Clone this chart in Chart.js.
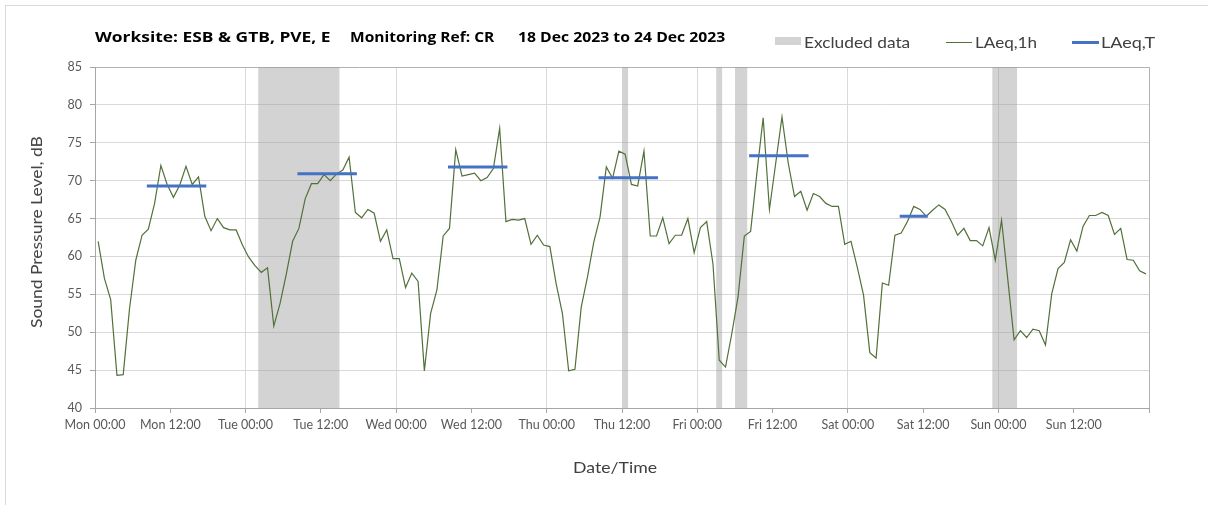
<!DOCTYPE html>
<html>
<head>
<meta charset="utf-8">
<script src="https://cdn.jsdelivr.net/npm/chart.js@4.4.1/dist/chart.umd.min.js"></script>
<style>
  html, body { margin: 0; padding: 0; background: #fff; overflow: hidden; }
  #wrap { position: relative; width: 1208px; height: 505px; overflow: hidden; font-family: Lato, "Open Sans", sans-serif; }
  #frame { position: absolute; left: 5px; top: 5px; width: 1400px; height: 700px; border: 1px solid #d9d9d9; box-sizing: border-box; }
  canvas { position: absolute; left: 0; top: 0; }
  .t { position: absolute; white-space: nowrap; line-height: 1; transform-origin: 0 50%; }
  .title { font-family: "Open Sans", sans-serif; font-weight: bold; font-size: 14px; color: #000; top: 30px; }
  .leg { font-size: 16px; color: #404040; top: 34px; }
  .sw { position: absolute; }
  .axt { font-size: 16px; color: #404040; }
</style>
</head>
<body>
<div id="wrap">
  <div id="frame"></div>
  <canvas id="c" width="1208" height="505"></canvas>
  <div class="t title fit" data-w="236" style="left:95px">Worksite: ESB &amp; GTB, PVE, E</div>
  <div class="t title fit" data-w="144" style="left:350px">Monitoring Ref: CR</div>
  <div class="t title fit" data-w="207" style="left:518px">18 Dec 2023 to 24 Dec 2023</div>

  <div class="sw" style="left:775px;top:37px;width:26px;height:8px;background:#d3d3d3"></div>
  <div class="t leg fit" data-w="106" style="left:804px">Excluded data</div>
  <div class="sw" style="left:946px;top:42px;width:26px;height:1px;background:#52703a"></div>
  <div class="t leg fit" data-w="62" style="left:975px">LAeq,1h</div>
  <div class="sw" style="left:1072px;top:41px;width:27px;height:3px;background:#4472c4"></div>
  <div class="t leg fit" data-w="54" style="left:1101px">LAeq,T</div>

  <div class="t axt fit" data-w="84" style="left:573px;top:459px">Date/Time</div>
  <div class="t axt" id="ytitle" style="left:36px;top:232px;transform-origin:50% 50%">Sound Pressure Level, dB</div>
</div>
<script>
// Hourly LAeq,1h values (dB), Mon 00:00 through Sun 23:00
const laeq1h = [
  62.0, 57.1, 54.3, 44.3, 44.4, 53.1, 59.5, 62.8, 63.6, 67.0, 72.0, 69.5,
  67.8, 69.4, 71.9, 69.5, 70.5, 65.3, 63.4, 65.0, 63.8, 63.5, 63.5, 61.5,
  59.9, 58.8, 57.9, 58.5, 50.8, 53.8, 57.7, 62.0, 63.7, 67.6, 69.6, 69.6,
  70.8, 70.0, 70.9, 71.4, 73.1, 65.8, 65.1, 66.2, 65.7, 62.0, 63.5, 59.7,
  59.7, 55.9, 57.8, 56.7, 44.9, 52.5, 55.6, 62.7, 63.7, 74.1, 70.6, 70.8,
  71.0, 70.0, 70.4, 71.6, 76.9, 64.6, 64.9, 64.8, 65.0, 61.6, 62.8, 61.5,
  61.3, 56.4, 52.5, 44.9, 45.1, 53.3, 57.3, 61.9, 65.2, 71.8, 70.3, 73.9,
  73.5, 69.5, 69.3, 73.9, 62.7, 62.7, 65.1, 61.7, 62.8, 62.8, 65.0, 60.5,
  63.8, 64.6, 59.0, 46.3, 45.4, 49.8, 54.7, 62.7, 63.3, 71.0, 78.3, 66.2,
  72.3, 78.4, 72.3, 67.9, 68.6, 66.1, 68.3, 67.9, 67.0, 66.6, 66.6, 61.6,
  62.0, 58.6, 54.9, 47.3, 46.6, 56.5, 56.2, 62.8, 63.1, 64.6, 66.6, 66.2,
  65.3, 66.1, 66.8, 66.2, 64.6, 62.8, 63.7, 62.1, 62.1, 61.4, 63.8, 59.5,
  64.8, 56.9, 49.0, 50.2, 49.3, 50.4, 50.2, 48.3, 55.1, 58.4, 59.2, 62.2,
  60.7, 64.0, 65.4, 65.4, 65.8, 65.4, 62.9, 63.7, 59.6, 59.5, 58.1, 57.7
];

// LAeq,T over each working period (hours from Mon 00:00, hourly midpoints)
const periodStart = [8.5, 32.5, 56.5, 80.5, 104.5, 128.5];
const periodEnd   = [17.5, 41.5, 65.5, 89.5, 113.5, 132.5];
const laeqT       = [69.3, 70.9, 71.8, 70.4, 73.3, 65.3];

// Excluded data periods (hours from Mon 00:00)
const exclStart = [26, 84, 99, 102, 143];
const exclEnd   = [39, 85, 100, 104, 147];

// X-axis tick labels, every 12 hours
const tickLabels = [
  'Mon 00:00', 'Mon 12:00', 'Tue 00:00', 'Tue 12:00', 'Wed 00:00', 'Wed 12:00',
  'Thu 00:00', 'Thu 12:00', 'Fri 00:00', 'Fri 12:00', 'Sat 00:00', 'Sat 12:00',
  'Sun 00:00', 'Sun 12:00', ''
];
const yMin = 40, yMax = 85;

// Fit the HTML captions to their set widths
document.querySelectorAll('.fit').forEach(el => {
  const k = Number(el.dataset.w) / el.offsetWidth;
  el.style.transform = 'scaleX(' + k.toFixed(3) + ')';
});
const yt = document.getElementById('ytitle');
const yk = 192 / yt.offsetWidth;
yt.style.transform = 'translate(-50%,-50%) rotate(-90deg) scaleX(' + yk.toFixed(3) + ')';

const hourlyPoints = laeq1h.map((v, i) => ({ x: i + 0.5, y: v }));

const periodPoints = [];
periodStart.forEach((s, k) => {
  periodPoints.push({ x: s, y: laeqT[k] });
  periodPoints.push({ x: periodEnd[k], y: laeqT[k] });
  periodPoints.push({ x: periodEnd[k], y: null });
});

const bandSets = exclStart.map((s, k) => ({
  label: 'Excluded data',
  data: [{ x: s, y: yMax }, { x: exclEnd[k], y: yMax }],
  fill: 'start',
  backgroundColor: 'rgba(150,150,150,0.42)',
  borderWidth: 0,
  pointRadius: 0,
  order: 2
}));

new Chart(document.getElementById('c'), {
  type: 'line',
  data: {
    datasets: [
      {
        label: 'LAeq,T',
        data: periodPoints,
        borderColor: '#4472c4',
        borderWidth: 3,
        borderCapStyle: 'square',
        pointRadius: 0,
        spanGaps: false,
        order: 0
      },
      {
        label: 'LAeq,1h',
        data: hourlyPoints,
        borderColor: '#52703a',
        borderWidth: 1.2,
        pointRadius: 0,
        tension: 0,
        order: 1
      },
      ...bandSets
    ]
  },
  options: {
    responsive: false,
    animation: false,
    devicePixelRatio: 1,
    layout: { padding: { top: 67, right: 59, left: 0, bottom: 0 } },
    plugins: { legend: { display: false }, tooltip: { enabled: false } },
    scales: {
      x: {
        type: 'linear',
        min: 0, max: 168,
        afterFit: s => { s.height = 97; },
        afterBuildTicks: s => { s.ticks = tickLabels.map((_, i) => ({ value: i * 12 })); },
        ticks: {
          autoSkip: false, maxRotation: 0, minRotation: 0, padding: 4,
          color: '#595959', font: { family: 'Lato', size: 12.5 },
          callback: (v, i) => tickLabels[i]
        },
        grid: {
          color: c => c.tick.value === 168 ? '#b3b3b3' : (c.tick.value % 24 === 0 ? '#d9d9d9' : 'rgba(0,0,0,0)'),
          tickColor: '#a6a6a6', tickLength: 5, drawTicks: true
        },
        border: { color: '#a6a6a6' }
      },
      y: {
        min: yMin, max: yMax,
        afterFit: s => { s.width = 95; },
        ticks: { stepSize: 5, padding: 8, color: '#595959', font: { family: 'Lato', size: 12.5 } },
        grid: {
          color: c => c.tick.value === yMax ? '#b3b3b3' : '#d9d9d9',
          tickColor: '#a6a6a6', tickLength: 5
        },
        border: { color: '#a6a6a6' }
      }
    }
  }
});
</script>
</body>
</html>
